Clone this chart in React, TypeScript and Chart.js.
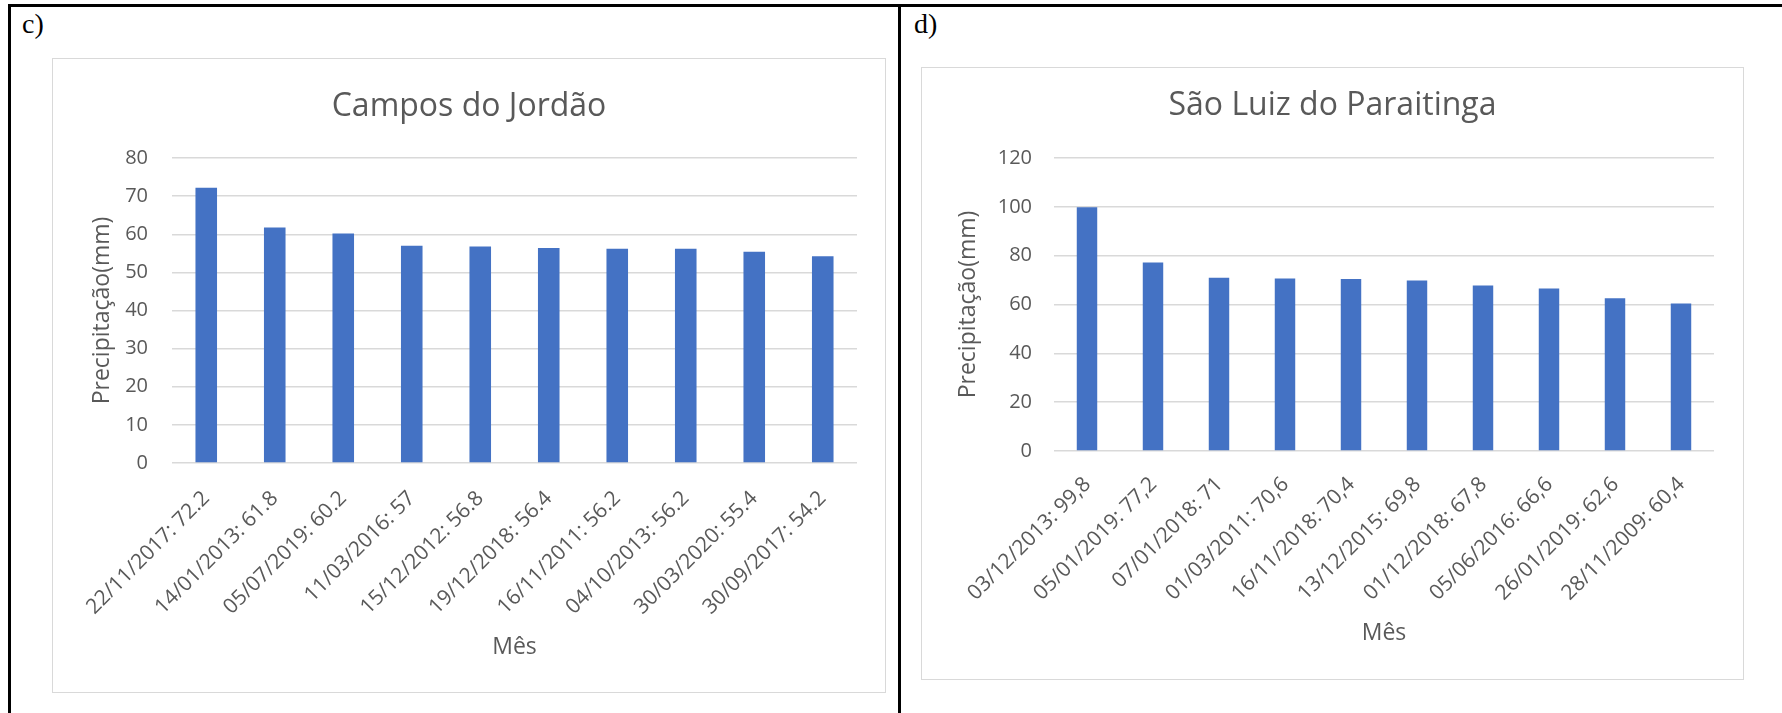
import React, { useEffect, useRef } from "react";
import { Chart, registerables } from "chart.js";

Chart.register(...registerables);

// Campos do Jordão: ten wettest days (date, precipitation in mm)
const camposDates = [
  "22/11/2017", "14/01/2013", "05/07/2019", "11/03/2016", "15/12/2012",
  "19/12/2018", "16/11/2011", "04/10/2013", "30/03/2020", "30/09/2017",
];
const camposValues = [72.2, 61.8, 60.2, 57, 56.8, 56.4, 56.2, 56.2, 55.4, 54.2];
const camposYTicks = { min: 0, max: 80, step: 10 };

// São Luiz do Paraitinga: ten wettest days (date, precipitation in mm)
const saoLuizDates = [
  "03/12/2013", "05/01/2019", "07/01/2018", "01/03/2011", "16/11/2018",
  "13/12/2015", "01/12/2018", "05/06/2016", "26/01/2019", "28/11/2009",
];
const saoLuizValues = [99.8, 77.2, 71, 70.6, 70.4, 69.8, 67.8, 66.6, 62.6, 60.4];
const saoLuizYTicks = { min: 0, max: 120, step: 20 };

const FONT = "'Open Sans', 'Noto Sans', sans-serif";
const TEXT = "#595959";
const GRID = "#d9d9d9";
const BAR = "#4472C4";

type Geometry = {
  width: number;
  height: number;
  titleTop: number;
  titleBottom: number;
  yAxisWidth: number;
  yTickPad: number;
  yTitleTop: number;
  xAxisHeight: number;
  xTickPad: number;
  xLabelOffset: number;
  xTitleBottom: number;
  rightGutter: number;
  barPct: number;
};

type PanelProps = {
  title: string;
  labels: string[];
  values: number[];
  yRange: { min: number; max: number; step: number };
  geo: Geometry;
};

function BarPanel({ title, labels, values, yRange, geo }: PanelProps) {
  const ref = useRef<HTMLCanvasElement | null>(null);

  useEffect(() => {
    if (!ref.current) return;
    const chart = new Chart(ref.current, {
      type: "bar",
      data: {
        labels,
        datasets: [
          {
            data: values,
            backgroundColor: BAR,
            borderWidth: 0,
            barPercentage: geo.barPct,
            categoryPercentage: 1,
          },
        ],
      },
      options: {
        animation: false,
        responsive: false,
        maintainAspectRatio: false,
        devicePixelRatio: 1,
        layout: { padding: 0 },
        plugins: {
          legend: { display: false },
          tooltip: { enabled: false },
          title: {
            display: true,
            text: title,
            color: TEXT,
            font: { family: FONT, size: 32, weight: "normal" },
            padding: { top: geo.titleTop, bottom: geo.titleBottom },
          },
        },
        scales: {
          x: {
            grid: { display: false, drawTicks: false },
            border: { display: false },
            ticks: {
              color: TEXT,
              font: { family: FONT, size: 21 },
              minRotation: 45,
              maxRotation: 45,
              autoSkip: false,
              padding: geo.xTickPad,
              labelOffset: geo.xLabelOffset,
            },
            title: {
              display: true,
              text: "Mês",
              color: TEXT,
              font: { family: FONT, size: 23 },
              padding: { top: 0, bottom: geo.xTitleBottom },
            },
            afterFit: (s: any) => {
              // fixed band under the plot; the slanted labels may run under the y axis
              s.height = geo.xAxisHeight;
              s.paddingLeft = 0;
              s.paddingRight = 0;
            },
          },
          y: {
            min: yRange.min,
            max: yRange.max,
            grid: { color: GRID, lineWidth: 1.5, drawTicks: false },
            border: { display: false },
            ticks: {
              stepSize: yRange.step,
              color: TEXT,
              font: { family: FONT, size: 20 },
              padding: geo.yTickPad,
            },
            title: {
              display: true,
              text: "Precipitação(mm)",
              color: TEXT,
              font: { family: FONT, size: 23 },
              padding: { top: geo.yTitleTop, bottom: 0 },
            },
            afterFit: (s: any) => {
              s.width = geo.yAxisWidth;
            },
          },
          // empty gutter on the right so the title stays centred on the whole box
          gutter: {
            type: "linear",
            position: "right",
            display: true,
            grid: { display: false, drawTicks: false },
            border: { display: false },
            ticks: { display: false },
            afterFit: (s: any) => {
              s.width = geo.rightGutter;
            },
          },
        },
      },
    });
    return () => chart.destroy();
  }, []);

  return (
    <canvas
      ref={ref}
      width={geo.width}
      height={geo.height}
      style={{ display: "block", width: geo.width, height: geo.height }}
    />
  );
}

const camposLabels = camposDates.map((d, i) => `${d}: ${camposValues[i]}`);
const saoLuizLabels = saoLuizDates.map(
  (d, i) => `${d}: ${String(saoLuizValues[i]).replace(".", ",")}`
);

const boxStyle = (left: number, top: number, w: number, h: number): React.CSSProperties => ({
  position: "absolute",
  left,
  top,
  width: w,
  height: h,
  border: `1px solid ${GRID}`,
  background: "#fff",
});

const serif = "'Liberation Serif', 'Times New Roman', serif";

export default function App() {
  return (
    <div
      style={{
        position: "absolute",
        left: 0,
        top: 0,
        width: 1782,
        height: 713,
        background: "#fff",
        overflow: "hidden",
      }}
    >
      {/* table rules */}
      <div style={{ position: "absolute", left: 8, top: 4, width: 1774, height: 3, background: "#000" }} />
      <div style={{ position: "absolute", left: 8, top: 4, width: 3, height: 709, background: "#000" }} />
      <div style={{ position: "absolute", left: 898, top: 4, width: 3, height: 709, background: "#000" }} />

      <div style={{ position: "absolute", left: 22, top: 10, fontFamily: serif, fontSize: 28, lineHeight: 1 }}>c)</div>
      <div style={{ position: "absolute", left: 914, top: 10, fontFamily: serif, fontSize: 28, lineHeight: 1 }}>d)</div>

      <div style={boxStyle(52, 58, 832, 633)}>
        <BarPanel
          title="Campos do Jordão"
          labels={camposLabels}
          values={camposValues}
          yRange={camposYTicks}
          geo={{
            width: 832,
            height: 633,
            titleTop: 28.3,
            titleBottom: 32.3,
            yAxisWidth: 119,
            yTickPad: 24,
            yTitleTop: 35.2,
            xAxisHeight: 229,
            xTickPad: 23,
            xLabelOffset: 0,
            xTitleBottom: 31.2,
            rightGutter: 28,
            barPct: 0.315,
          }}
        />
      </div>

      <div style={boxStyle(921, 67, 821, 611)}>
        <BarPanel
          title="São Luiz do Paraitinga"
          labels={saoLuizLabels}
          values={saoLuizValues}
          yRange={saoLuizYTicks}
          geo={{
            width: 821,
            height: 611,
            titleTop: 18.8,
            titleBottom: 32.8,
            yAxisWidth: 132,
            yTickPad: 22,
            yTitleTop: 32.2,
            xAxisHeight: 228,
            xTickPad: 21,
            xLabelOffset: 0.5,
            xTitleBottom: 32.2,
            rightGutter: 29,
            barPct: 0.31,
          }}
        />
      </div>
    </div>
  );
}
